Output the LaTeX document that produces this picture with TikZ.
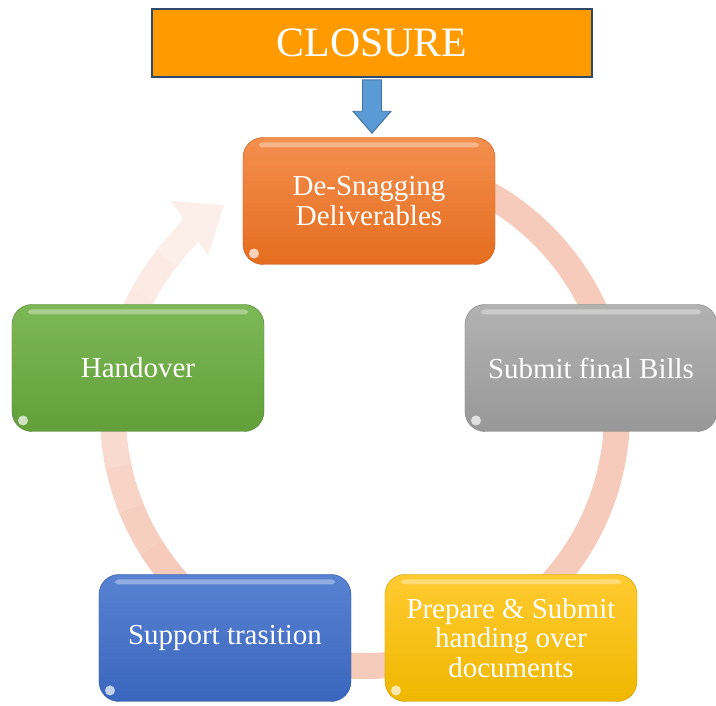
\documentclass[tikz,border=0pt]{standalone}
\usepackage{fontspec}
\setmainfont{Liberation Serif}
\usetikzlibrary{calc,arrows.meta}

\definecolor{bannerfill}{HTML}{FF9B00}
\definecolor{bannerline}{HTML}{2E4A6B}
\definecolor{arrowfill}{HTML}{5B9BD5}
\definecolor{arrowline}{HTML}{41719C}
\definecolor{ringpink}{HTML}{F6CBBB}
\definecolor{desnagtop}{HTML}{F48F4E}
\definecolor{desnagbot}{HTML}{E56D1F}
\definecolor{billstop}{HTML}{B2B2B2}
\definecolor{billsbot}{HTML}{989898}
\definecolor{handtop}{HTML}{7DB856}
\definecolor{handbot}{HTML}{629F3A}
\definecolor{supptop}{HTML}{5882D1}
\definecolor{suppbot}{HTML}{3A66BE}
\definecolor{preptop}{HTML}{FFCB30}
\definecolor{prepbot}{HTML}{F0B700}

\begin{document}
\begin{tikzpicture}[x=0.03cm, y=0.03cm,
		stagebox/.style 2 args={rounded corners=0.6cm, minimum width=7.56cm, minimum height=3.81cm,
			inner sep=0pt, align=center, text=white, top color=#1, bottom color=#2,
			draw=#2!85!black, line width=0.4pt,
			font=\fontsize{24.7}{25.5}\selectfont,
			path picture={
				\fill[white, opacity=0.35, rounded corners=0.1cm]
					($(path picture bounding box.north west)+(16,-5)$) rectangle
					($(path picture bounding box.north east)+(-16,-10)$);
				\fill[white, opacity=0.7]
					($(path picture bounding box.south west)+(11,11)$) circle (5);
			}},
		ring/.style={line width=0.78cm}
	]
		%%%%% START %%%%%
		\useasboundingbox (0, 0) rectangle (716, 706);
		
		% circular arrow behind the stages, fading out towards its head
		\coordinate (ctr) at (365, 292);
		\draw[ring, ringpink] (ctr) ++(80:252) arc (80:-148:252);
		\foreach \a/\p in {-150/92, -160/82, -170/72, -180/62, -190/52, -200/44, -210/38}
			\draw[ring, ringpink!\p!white] (ctr) ++(\a+2:252) arc (\a+2:\a-10:252);
		\draw[ring, ringpink!32!white, -{Triangle[length=1.25cm, width=1.9cm]}]
			(ctr) ++(-218:252) arc (-218:-236:252);
		
		% banner
		\node[draw=bannerline, line width=1.6pt, fill=bannerfill, minimum width=13.2cm, minimum height=2.04cm,
			inner sep=0pt, text=white, font=\fontsize{35.7}{36}\selectfont] (closure) at (372, 663) {CLOSURE};
		
		% stages
		\node[stagebox={desnagtop}{desnagbot}] (desnag) at (369, 505) {De-Snagging\\Deliverables};
		\node[stagebox={billstop}{billsbot}] (bills) at (591, 338) {Submit final Bills};
		\node[stagebox={preptop}{prepbot}] (prepare) at (511, 68) {Prepare \& Submit\\handing over\\documents};
		\node[stagebox={supptop}{suppbot}] (support) at (225, 68) {Support trasition};
		\node[stagebox={handtop}{handbot}] (handover) at (138, 338) {Handover};
		
		% block arrow from banner down to first stage
		\coordinate (tip) at ($(closure.south |- desnag.north)+(0, 4)$);
		\draw[draw=arrowline, fill=arrowfill, line width=0.8pt, line join=miter]
			($(closure.south)+(-9.5, -2)$) -- ($(tip)+(-9.5, 22)$) -- ($(tip)+(-19, 22)$) -- (tip)
			-- ($(tip)+(19, 22)$) -- ($(tip)+(9.5, 22)$) -- ($(closure.south)+(9.5, -2)$) -- cycle;
		
		%%%%% END %%%%%
	\end{tikzpicture}
\end{document}
